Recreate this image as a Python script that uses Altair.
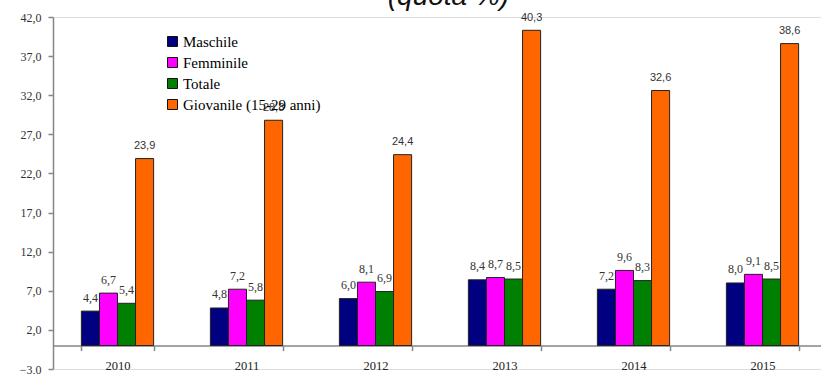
import altair as alt
import pandas as pd

anni = ["2010", "2011", "2012", "2013", "2014", "2015"]
serie = ["Maschile", "Femminile", "Totale", "Giovanile (15-29 anni)"]
maschile = [4.4, 4.8, 6.0, 8.4, 7.2, 8.0]
femminile = [6.7, 7.2, 8.1, 8.7, 9.6, 9.1]
totale = [5.4, 5.8, 6.9, 8.5, 8.3, 8.5]
giovanile = [23.9, 28.8, 24.4, 40.3, 32.6, 38.6]
colori = ["#000080", "#FF00FF", "#008000", "#FF6600"]
y_ticks = [-3, 2, 7, 12, 17, 22, 27, 32, 37, 42]
titolo = "(quota %)"

rows = []
for s, vals in zip(serie, [maschile, femminile, totale, giovanile]):
    for a, v in zip(anni, vals):
        rows.append({"anno": a, "serie": s, "valore": v})
df = pd.DataFrame(rows)

x_enc = alt.X(
    "anno:N",
    sort=anni,
    scale=alt.Scale(paddingInner=0.44, paddingOuter=0.22),
    axis=alt.Axis(
        title=None, labelAngle=0, offset=-23.4, tickBand="extent",
        domainColor="#868686", domainWidth=1.5, tickColor="#868686",
        tickWidth=1.5, tickSize=5, labelFont="Liberation Serif",
        labelFontSize=12.5, labelColor="#222222", labelPadding=9,
        labelBaseline="top",
    ),
)
xo_enc = alt.XOffset("serie:N", sort=serie,
                     scale=alt.Scale(domain=serie, paddingInner=0, paddingOuter=0))
y_enc = alt.Y(
    "valore:Q",
    scale=alt.Scale(domain=[-3, 42], nice=False, zero=False),
    axis=alt.Axis(
        title=None, values=y_ticks, grid=False, format=".1f",
        labelExpr="replace(datum.label, '.', ',')",
        domainColor="#868686", domainWidth=1.5, tickColor="#868686",
        tickWidth=1.5, tickSize=5, labelFont="Liberation Serif",
        labelFontSize=12, labelColor="#333333", labelPadding=7,
    ),
)

base = alt.Chart(df).transform_calculate(
    lab="replace(format(datum.valore, '.1f'), '.', ',')"
)

bars = base.mark_bar(stroke="#222222", strokeWidth=1).encode(
    x=x_enc,
    xOffset=xo_enc,
    y=y_enc,
    y2=alt.datum(0),
    color=alt.Color(
        "serie:N", sort=serie,
        scale=alt.Scale(domain=serie, range=colori),
        legend=alt.Legend(
            title=None, orient="none", legendX=112, legendY=17,
            symbolType="square", symbolSize=100, symbolStrokeColor="#111111",
            symbolStrokeWidth=1, symbolOpacity=1,
            labelFont="Liberation Serif", labelFontSize=15, labelColor="#000000",
            rowPadding=5, labelOffset=3, padding=0, labelLimit=300,
        ),
    ),
)

labels_serif = base.transform_filter(
    alt.datum.serie != serie[3]
).mark_text(font="Liberation Serif", fontSize=12, baseline="alphabetic",
            dy=-9.5, color="#333333").encode(
    x=x_enc, xOffset=xo_enc, y=y_enc, text="lab:N"
)

labels_sans = base.transform_filter(
    alt.datum.serie == serie[3]
).mark_text(font="Liberation Sans", fontSize=11, baseline="alphabetic",
            dy=-9.5, color="#333333").encode(
    x=x_enc, xOffset=xo_enc, y=y_enc, text="lab:N"
)

title_layer = alt.Chart(pd.DataFrame({"t": [titolo]})).mark_text(
    font="Liberation Sans", fontSize=28, fontStyle="italic", color="#111111",
    align="center", baseline="alphabetic"
).encode(text="t:N", x=alt.value(395.5), y=alt.value(-12))

chart = alt.layer(bars, labels_serif, labels_sans, title_layer).properties(
    width=774, height=352,
    autosize=alt.AutoSizeParams(type="none"),
    padding={"left": 53, "top": 17, "right": -6, "bottom": 5},
).configure_view(stroke=None).configure(background="white")

chart.save("out.html", embed_options={"renderer": "svg", "actions": False})
